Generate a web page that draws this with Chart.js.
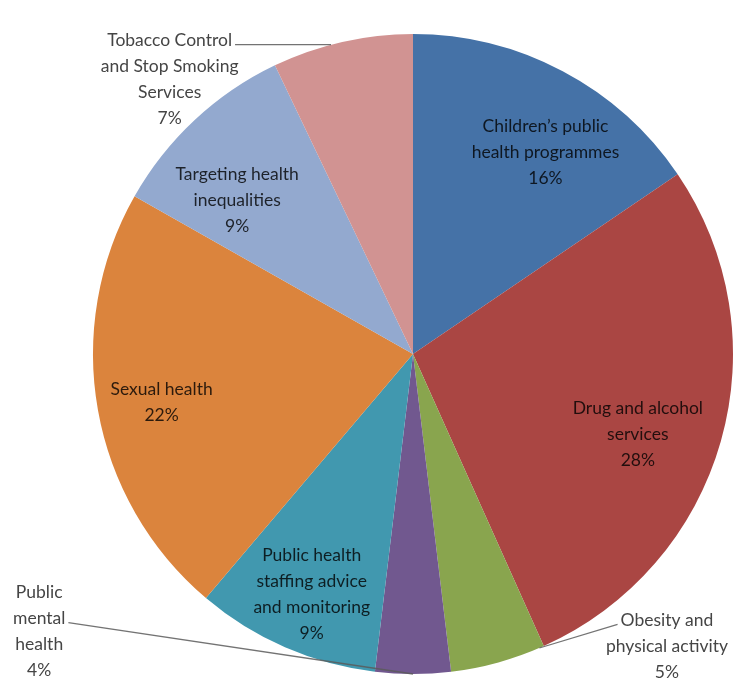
<!DOCTYPE html>
<html>
<head>
<meta charset="utf-8">
<script src="https://cdn.jsdelivr.net/npm/chart.js@4"></script>
<style>
html,body{margin:0;padding:0;background:#fff;}
#wrap{width:749px;height:698px;}
</style>
</head>
<body>
<div id="wrap"><canvas id="c" width="749" height="698"></canvas></div>
<script>
// ---- data ----
const categories = [
  "Children's public health programmes",
  "Drug and alcohol services",
  "Obesity and physical activity",
  "Public mental health",
  "Public health staffing advice and monitoring",
  "Sexual health",
  "Targeting health inequalities",
  "Tobacco Control and Stop Smoking Services"
];
const labelLines = [
  ["Children\u2019s public", "health programmes"],
  ["Drug and alcohol", "services"],
  ["Obesity and", "physical activity"],
  ["Public", "mental", "health"],
  ["Public health", "staffing advice", "and monitoring"],
  ["Sexual health"],
  ["Targeting health", "inequalities"],
  ["Tobacco Control", "and Stop Smoking", "Services"]
];
const shares = [15.5, 27.8, 4.8, 3.8, 9.3, 22.0, 9.7, 7.1];
const percentLabels = ["16%", "28%", "5%", "4%", "9%", "22%", "9%", "7%"];
const colors = ["#4572A7", "#AA4643", "#89A54E", "#71588F", "#4198AF", "#DB843D", "#93A9CF", "#D19392"];

// ---- label layout (relative to each slice's mid angle / radius) ----
const labelLayout = [
  {r: 0.754, da: 5.4},
  {r: 0.746, da: 3.8},
  {r: 1.21, da: -25.5, out: true, line: 0, side: 'left', edgeFrac: 0.05},
  {r: 1.455, da: 53.4, out: true, line: 1, side: 'right', edgeFrac: 0.5},
  {r: 0.816, da: -0.75},
  {r: 0.80, da: -0.8},
  {r: 0.73, da: -5.8},
  {r: 1.146, da: -28.8, out: true, line: 0, side: 'right', horizontal: true}
];

const FONT = '17.5px Lato, "Open Sans", sans-serif';
const LH = 26;

const labelPlugin = {
  id: 'sliceLabels',
  afterDatasetsDraw(chart) {
    const ctx = chart.ctx;
    const meta = chart.getDatasetMeta(0);
    ctx.save();
    ctx.font = FONT;
    ctx.textAlign = 'center';
    ctx.textBaseline = 'middle';
    meta.data.forEach((arc, i) => {
      const p = arc.getProps(['x', 'y', 'startAngle', 'endAngle', 'outerRadius'], true);
      const lay = labelLayout[i];
      const mid = (p.startAngle + p.endAngle) / 2 + lay.da * Math.PI / 180;
      const cx = p.x + Math.cos(mid) * p.outerRadius * lay.r;
      const cy = p.y + Math.sin(mid) * p.outerRadius * lay.r;
      const lines = labelLines[i].concat([percentLabels[i]]);
      const top = cy - (lines.length - 1) * LH / 2;
      if (lay.out) {
        const w = ctx.measureText(lines[lay.line]).width;
        const ly = top + lay.line * LH + 4;
        const lx = lay.side === 'right' ? cx + w / 2 + 3 : cx - w / 2 - 3;
        let ex, ey;
        if (lay.horizontal) {
          const dy = ly - p.y;
          const dx = Math.sqrt(Math.max(0, p.outerRadius * p.outerRadius - dy * dy));
          ex = lx < p.x ? p.x - dx : p.x + dx;
          ey = ly;
        } else {
          const ea = p.startAngle + (p.endAngle - p.startAngle) * lay.edgeFrac;
          ex = p.x + Math.cos(ea) * p.outerRadius;
          ey = p.y + Math.sin(ea) * p.outerRadius;
        }
        ctx.strokeStyle = 'rgba(90,90,90,0.85)';
        ctx.lineWidth = 1.3;
        ctx.beginPath();
        ctx.moveTo(lx, ly);
        ctx.lineTo(ex, ey);
        ctx.stroke();
        ctx.fillStyle = '#454545';
      } else {
        ctx.fillStyle = 'rgba(0,0,0,0.8)';
      }
      lines.forEach((t, k) => ctx.fillText(t, cx, top + k * LH));
    });
    ctx.restore();
  }
};

new Chart(document.getElementById('c'), {
  type: 'pie',
  data: {
    labels: categories,
    datasets: [{
      data: shares,
      backgroundColor: colors,
      borderWidth: 0
    }]
  },
  options: {
    responsive: false,
    animation: false,
    layout: {padding: {left: 93, right: 16, top: 34, bottom: 24}},
    plugins: {
      legend: {display: false},
      tooltip: {enabled: false}
    }
  },
  plugins: [labelPlugin]
});
</script>
</body>
</html>
